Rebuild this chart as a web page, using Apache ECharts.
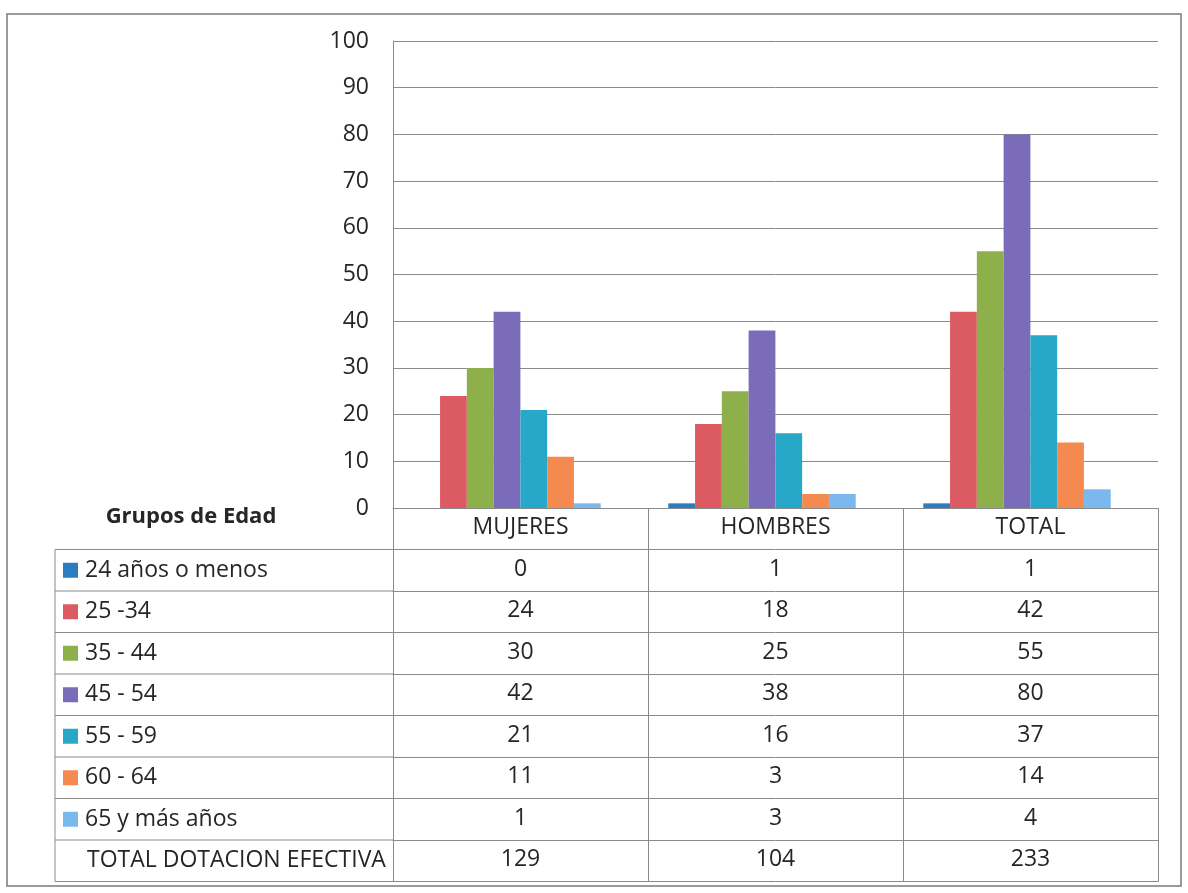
<!DOCTYPE html>
<html>
<head>
<meta charset="utf-8">
<script src="https://cdn.jsdelivr.net/npm/echarts@6/dist/echarts.min.js"></script>
<style>
  html, body { margin: 0; padding: 0; background: #fff; }
  #chart { width: 1188px; height: 893px; }
</style>
</head>
<body>
<div id="chart"></div>
<script>
// datos de la tabla (Mujeres, Hombres, Total)
var sexos = ["MUJERES", "HOMBRES", "TOTAL"];
var grupos = ["24 años o menos", "25 -34", "35 - 44", "45 - 54", "55 - 59", "60 - 64", "65 y más años"];
var g24 = [0, 1, 1];
var g25 = [24, 18, 42];
var g35 = [30, 25, 55];
var g45 = [42, 38, 80];
var g55 = [21, 16, 37];
var g60 = [11, 3, 14];
var g65 = [1, 3, 4];
var totalDotacion = [129, 104, 233];
var yTicks = [0, 10, 20, 30, 40, 50, 60, 70, 80, 90, 100];

var colores = ["#2b7dc0", "#dc5a62", "#8db04a", "#7a6cb8", "#27a8c8", "#f58a50", "#7ab8ee"];
var filas = [g24, g25, g35, g45, g55, g60, g65, totalDotacion];

var FONT = "'Open Sans', Lato, sans-serif";
var TXT = "#262626";
var LINE = "#8a8a8a";
var ROW = 41.5;

var chart = echarts.init(document.getElementById("chart"));

// eje x principal (encabezados) + un eje por fila de la tabla
var xAxes = [];
for (var k = 0; k <= filas.length + 1; k++) {
  (function (k) {
    var last = k === filas.length + 1;
    xAxes.push({
      type: "category",
      gridIndex: 0,
      data: sexos,
      position: "bottom",
      offset: k * ROW,
      axisLine: { show: true, lineStyle: { color: LINE, width: 1 } },
      axisTick: {
        show: !last,
        length: ROW,
        interval: 0,
        lineStyle: { color: LINE, width: 1 }
      },
      axisLabel: {
        show: !last,
        margin: 8,
        fontSize: 23,
        fontFamily: FONT,
        color: TXT,
        formatter: function (v, i) {
          return k === 0 ? v : String(filas[k - 1][i]);
        }
      },
      splitLine: { show: false }
    });
  })(k);
}
// eje de las barras (en el original las barras quedan algo corridas a la izquierda)
var barAxis = xAxes.length;
xAxes.push({
  type: "category",
  gridIndex: 1,
  data: sexos,
  show: false
});

var series = grupos.map(function (g, i) {
  return {
    name: g,
    type: "bar",
    data: filas[i],
    xAxisIndex: barAxis,
    yAxisIndex: 1,
    barGap: 0,
    barCategoryGap: "26.5%",
    itemStyle: { color: colores[i] }
  };
});

var graphics = [
  {
    type: "rect",
    shape: { x: 7, y: 14, width: 1174, height: 872 },
    style: { fill: null, stroke: "#7a7a7a", lineWidth: 1.5 },
    silent: true
  },
  {
    type: "text",
    x: 191,
    y: 517,
    style: {
      text: "Grupos de Edad",
      font: "bold 22px " + FONT,
      fill: TXT,
      align: "center",
      verticalAlign: "middle"
    }
  },
  {
    type: "line",
    shape: { x1: 55, y1: 508 + ROW, x2: 55, y2: 508 + 9 * ROW },
    style: { stroke: LINE, lineWidth: 1 }
  },
  {
    type: "text",
    x: 87,
    y: 508 + 8.5 * ROW,
    style: {
      text: "TOTAL DOTACION EFECTIVA",
      font: "23px " + FONT,
      fill: TXT,
      verticalAlign: "middle"
    }
  }
];
for (var j = 1; j <= 9; j++) {
  graphics.push({
    type: "line",
    shape: { x1: 55, y1: 508 + j * ROW, x2: 393, y2: 508 + j * ROW },
    style: { stroke: LINE, lineWidth: 1 }
  });
}

var option = {
  animation: false,
  backgroundColor: "#fff",
  grid: [
    { left: 393, right: 30, top: 41, bottom: 385, containLabel: false },
    { left: 379.5, right: 43.5, top: 41, bottom: 385, containLabel: false }
  ],
  legend: {
    orient: "vertical",
    left: 63,
    top: 508 + 1.5 * ROW - 12,
    padding: 0,
    itemWidth: 15,
    itemHeight: 15,
    itemGap: ROW - 24,
    icon: "rect",
    selectedMode: false,
    textStyle: { fontSize: 23, lineHeight: 24, fontFamily: FONT, color: TXT, padding: [0, 0, 0, 2] },
    data: grupos
  },
  xAxis: xAxes,
  yAxis: [
    {
      type: "value",
      gridIndex: 0,
      min: yTicks[0],
      max: yTicks[yTicks.length - 1],
      interval: 10,
      axisLine: { show: true, lineStyle: { color: LINE } },
      axisTick: { show: false },
      axisLabel: { fontSize: 23, fontFamily: FONT, color: TXT, margin: 24 },
      splitLine: { lineStyle: { color: LINE, width: 1 } }
    },
    {
      type: "value",
      gridIndex: 1,
      min: yTicks[0],
      max: yTicks[yTicks.length - 1],
      interval: 10,
      show: false,
      splitLine: { show: false }
    }
  ],
  series: series,
  graphic: graphics
};

chart.setOption(option);
</script>
</body>
</html>
